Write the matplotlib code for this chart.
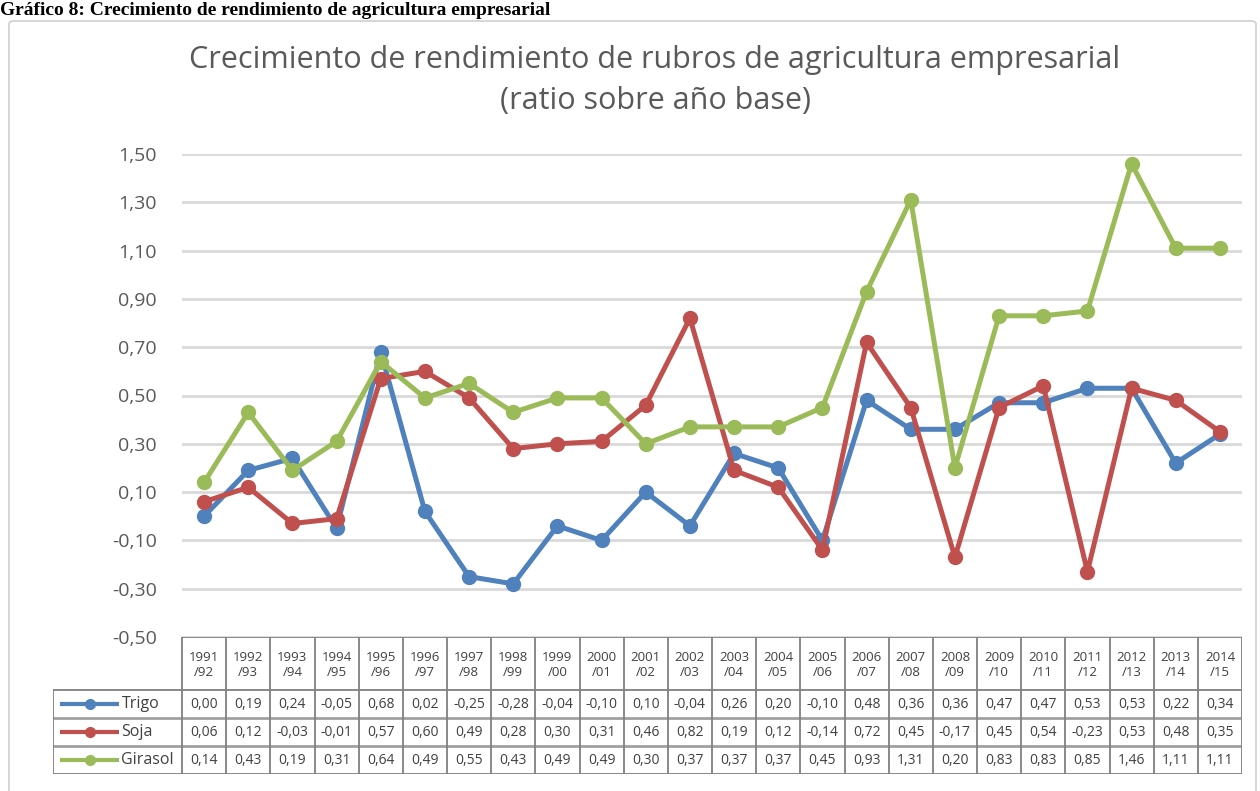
import matplotlib
matplotlib.use("Agg")
import matplotlib.pyplot as plt
from matplotlib.patches import FancyBboxPatch

plt.rcParams['font.family'] = ['Open Sans', 'DejaVu Sans']

campaigns = ["1991\n/92", "1992\n/93", "1993\n/94", "1994\n/95", "1995\n/96", "1996\n/97",
             "1997\n/98", "1998\n/99", "1999\n/00", "2000\n/01", "2001\n/02", "2002\n/03",
             "2003\n/04", "2004\n/05", "2005\n/06", "2006\n/07", "2007\n/08", "2008\n/09",
             "2009\n/10", "2010\n/11", "2011\n/12", "2012\n/13", "2013\n/14", "2014\n/15"]
trigo = [0.00, 0.19, 0.24, -0.05, 0.68, 0.02, -0.25, -0.28, -0.04, -0.10, 0.10, -0.04,
         0.26, 0.20, -0.10, 0.48, 0.36, 0.36, 0.47, 0.47, 0.53, 0.53, 0.22, 0.34]
soja = [0.06, 0.12, -0.03, -0.01, 0.57, 0.60, 0.49, 0.28, 0.30, 0.31, 0.46, 0.82,
        0.19, 0.12, -0.14, 0.72, 0.45, -0.17, 0.45, 0.54, -0.23, 0.53, 0.48, 0.35]
girasol = [0.14, 0.43, 0.19, 0.31, 0.64, 0.49, 0.55, 0.43, 0.49, 0.49, 0.30, 0.37,
           0.37, 0.37, 0.45, 0.93, 1.31, 0.20, 0.83, 0.83, 0.85, 1.46, 1.11, 1.11]
series_names = ["Trigo", "Soja", "Girasol"]
series_colors = ["#4F81BD", "#C0504D", "#9BBB59"]
yticks = [-0.50, -0.30, -0.10, 0.10, 0.30, 0.50, 0.70, 0.90, 1.10, 1.30, 1.50]

W, H = 1260, 791
fig = plt.figure(figsize=(W / 100, H / 100), dpi=100)

def fx(px):
    return px / W

def fy(py):
    return 1 - py / H

# outer chart frame
frame = FancyBboxPatch((fx(9), fy(800)), fx(1256) - fx(9), fy(21) - fy(800),
                       boxstyle="round,pad=0,rounding_size=0.004", transform=fig.transFigure,
                       facecolor="none", edgecolor="#D0D0D0", linewidth=1.2, zorder=-1)
fig.patches.append(frame)

# document heading
fig.text(fx(0), fy(15), "Gráfico 8: Crecimiento de rendimiento de agricultura empresarial",
         family="Liberation Serif", fontweight="bold", fontsize=14, va="baseline", ha="left")

# titles
fig.text(fx(655), fy(60), "Crecimiento de rendimiento de rubros de agricultura empresarial",
         ha="center", va="center", fontsize=22, color="#595959")
fig.text(fx(655), fy(101), "(ratio sobre año base)", ha="center", va="center",
         fontsize=22, color="#595959")

# main plot
x0, x1 = 182, 1242
ytop, ybot = 154, 637
ax = fig.add_axes([fx(x0), fy(ybot), fx(x1) - fx(x0), fy(ytop) - fy(ybot)])
n = len(campaigns)
xs = list(range(n))
ax.set_xlim(-0.5, n - 0.5)
ax.set_ylim(-0.50, 1.50)
ax.set_yticks(yticks)
ax.set_yticklabels([f"{v:.2f}".replace(".", ",") for v in yticks], fontsize=14, color="#595959")
ax.tick_params(axis="y", length=0, pad=18)
ax.set_xticks([])
for s in ax.spines.values():
    s.set_visible(False)
ax.grid(axis="y", color="#D9D9D9", linewidth=2)
ax.set_axisbelow(True)
for vals, col in zip([trigo, soja, girasol], series_colors):
    ax.plot(xs, vals, color=col, linewidth=3.6, marker="o", markersize=10, zorder=3,
            solid_capstyle="round", solid_joinstyle="round")

# table
lx = 53
colw = (x1 - x0) / n
extra = (x0 - lx) / colw
tb_top, tb_hdr, tb_bot = 637, 690, 774
tax = fig.add_axes([fx(lx), fy(tb_bot), fx(x1) - fx(lx), fy(tb_top) - fy(tb_bot)])
tax.set_xlim(-0.5 - extra, n - 0.5)
tax.set_ylim(tb_bot, tb_top)
tax.axis("off")
bc = "#808080"
lw = 1.3
rowh = (tb_bot - tb_hdr) / 3
# header
for i, lab in enumerate(campaigns):
    tax.text(i, (tb_top + tb_hdr) / 2 + 1, lab, ha="center", va="center", fontsize=9.5,
             color="#404040", linespacing=1.2)
# vertical lines
for i in range(n + 1):
    tax.plot([i - 0.5, i - 0.5], [tb_top, tb_bot], color=bc, lw=lw)
# horizontal lines
tax.plot([-0.5, n - 0.5], [tb_top, tb_top], color=bc, lw=lw)
for r in range(4):
    yy = tb_hdr + r * rowh
    tax.plot([-0.5 - extra, n - 0.5], [yy, yy], color=bc, lw=lw if r in (0, 3) else 2,
             alpha=1 if r in (0, 3) else 0.75)
tax.plot([-0.5 - extra, -0.5 - extra], [tb_hdr, tb_bot], color=bc, lw=lw)
for r, (name, vals, col) in enumerate(zip(series_names, [trigo, soja, girasol], series_colors)):
    yc = tb_hdr + (r + 0.5) * rowh
    for i, v in enumerate(vals):
        tax.text(i, yc, f"{v:.2f}".replace(".", ","), ha="center", va="center",
                 fontsize=10, color="#404040")
    xa = -0.5 - extra + 0.16
    xb = -0.5 - extra + 1.5
    tax.plot([xa, xb], [yc, yc], color=col, lw=3, solid_capstyle="butt")
    tax.plot([(xa + xb) / 2], [yc], marker="o", markersize=7, color=col)
    tax.text(xb + 0.05, yc, name, ha="left", va="center", fontsize=11.5, color="#404040")

fig.savefig("out.png", dpi=100)
